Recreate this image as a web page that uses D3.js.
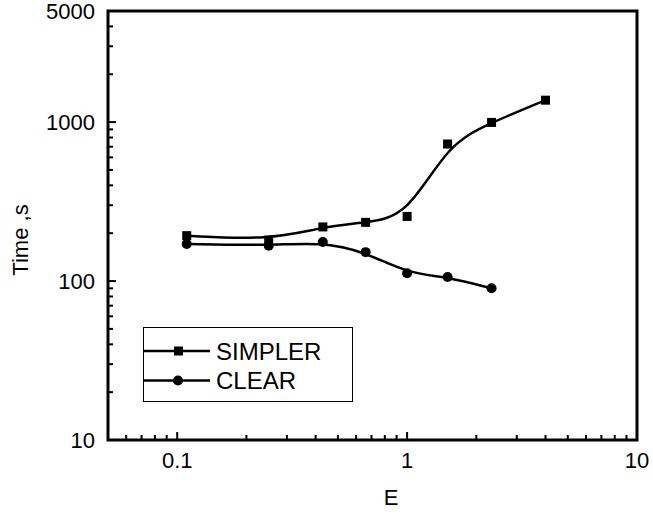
<!DOCTYPE html>
<html>
  <script src="https://cdn.jsdelivr.net/npm/d3@7"></script>
  <body style="margin:0;background:#fff">
    <script>
var width = 653;
var height = 516;

// data
var eSimpler = [0.11, 0.25, 0.43, 0.66, 1, 1.5, 2.33, 4];
var tSimpler = [193, 181, 219, 234, 255, 728, 995, 1374];
var eClear = [0.11, 0.25, 0.43, 0.66, 1, 1.5, 2.33];
var tClear = [171, 167, 176, 152, 112, 106, 90];
var xTickValues = [0.1, 1, 10];
var yTickValues = [10, 100, 1000, 5000];
var seriesNames = ['SIMPLER', 'CLEAR'];

var pLeft = 108, pRight = 637, pTop = 11, pBottom = 440;
var font = '"Liberation Sans", Arial, sans-serif';

var svg = d3.select('body').append('svg')
  .attr('width', width)
  .attr('height', height);

var x = d3.scaleLog().domain([0.05, 10]).range([pLeft, pRight]);
var y = d3.scaleLog().domain([10, 5000]).range([pBottom, pTop]);

// minor ticks
var xMinor = [];
[0.01, 0.1, 1].forEach(function(d) {
  for (var k = 2; k <= 9; k++) {
    var v = +(d * k).toPrecision(3);
    if (v > 0.05 && v < 10) xMinor.push(v);
  }
});
var yMinor = [];
[10, 100, 1000].forEach(function(d) {
  for (var k = 2; k <= 9; k++) {
    var v = d * k;
    if (v < 5000) yMinor.push(v);
  }
});

var ticks = svg.append('g').attr('stroke', '#000').attr('stroke-width', 2);
ticks.selectAll('.xm').data(xMinor).enter().append('line')
  .attr('x1', function(d) { return x(d); }).attr('x2', function(d) { return x(d); })
  .attr('y1', pBottom).attr('y2', pBottom - 5);
ticks.selectAll('.xM').data([0.1, 1]).enter().append('line')
  .attr('x1', function(d) { return x(d); }).attr('x2', function(d) { return x(d); })
  .attr('y1', pBottom).attr('y2', pBottom - 8);
ticks.selectAll('.ym').data(yMinor).enter().append('line')
  .attr('y1', function(d) { return y(d); }).attr('y2', function(d) { return y(d); })
  .attr('x1', pLeft).attr('x2', pLeft + 5);
ticks.selectAll('.yM').data([100, 1000]).enter().append('line')
  .attr('y1', function(d) { return y(d); }).attr('y2', function(d) { return y(d); })
  .attr('x1', pLeft).attr('x2', pLeft + 8);

// frame
svg.append('rect')
  .attr('x', pLeft).attr('y', pTop)
  .attr('width', pRight - pLeft).attr('height', pBottom - pTop)
  .attr('fill', 'none').attr('stroke', '#000').attr('stroke-width', 3);

// tick labels
svg.selectAll('.xl').data(xTickValues).enter().append('text')
  .attr('x', function(d) { return x(d); })
  .attr('y', 468)
  .attr('text-anchor', 'middle')
  .style('font-family', font).style('font-size', '22px')
  .text(function(d) { return d; });
svg.selectAll('.yl').data(yTickValues).enter().append('text')
  .attr('x', 95)
  .attr('y', function(d) { return y(d) + 8; })
  .attr('text-anchor', 'end')
  .style('font-family', font).style('font-size', '22px')
  .text(function(d) { return d; });

// axis titles
svg.append('text')
  .attr('x', 391).attr('y', 505)
  .attr('text-anchor', 'middle')
  .style('font-family', font).style('font-size', '22px')
  .text('E');
svg.append('text')
  .attr('transform', 'translate(28,240) rotate(-90)')
  .attr('text-anchor', 'middle')
  .style('font-family', font).style('font-size', '22px')
  .text('Time ,s');

var line = d3.line()
  .x(function(d) { return x(d[0]); })
  .y(function(d) { return y(d[1]); })
  .curve(d3.curveBasis);

var simpler = d3.zip(eSimpler, tSimpler);
var clear = d3.zip(eClear, tClear);

svg.append('path').datum(simpler).attr('d', line)
  .attr('fill', 'none').attr('stroke', '#000').attr('stroke-width', 2.5);
svg.append('path').datum(clear).attr('d', line)
  .attr('fill', 'none').attr('stroke', '#000').attr('stroke-width', 2.5);

svg.selectAll('.sq').data(simpler).enter().append('rect')
  .attr('x', function(d) { return x(d[0]) - 4.5; })
  .attr('y', function(d) { return y(d[1]) - 4.5; })
  .attr('width', 9).attr('height', 9)
  .attr('fill', '#000');
svg.selectAll('.ci').data(clear).enter().append('circle')
  .attr('cx', function(d) { return x(d[0]); })
  .attr('cy', function(d) { return y(d[1]); })
  .attr('r', 5)
  .attr('fill', '#000');

// legend
var lg = svg.append('g');
lg.append('rect')
  .attr('x', 143.5).attr('y', 327.5).attr('width', 209).attr('height', 74)
  .attr('fill', '#fff').attr('stroke', '#000').attr('stroke-width', 1);
seriesNames.forEach(function(name, i) {
  var ly = 351 + i * 29.5;
  lg.append('line').attr('x1', 144).attr('x2', 210).attr('y1', ly).attr('y2', ly)
    .attr('stroke', '#000').attr('stroke-width', 2.5);
  if (i === 0) {
    lg.append('rect').attr('x', 174).attr('y', ly - 4.5).attr('width', 9).attr('height', 9).attr('fill', '#000');
  } else {
    lg.append('circle').attr('cx', 178).attr('cy', ly).attr('r', 5).attr('fill', '#000');
  }
  lg.append('text').attr('x', 216).attr('y', ly + 8.5)
    .style('font-family', font).style('font-size', '24px')
    .text(name);
});
    </script>
  </body>
</html>
